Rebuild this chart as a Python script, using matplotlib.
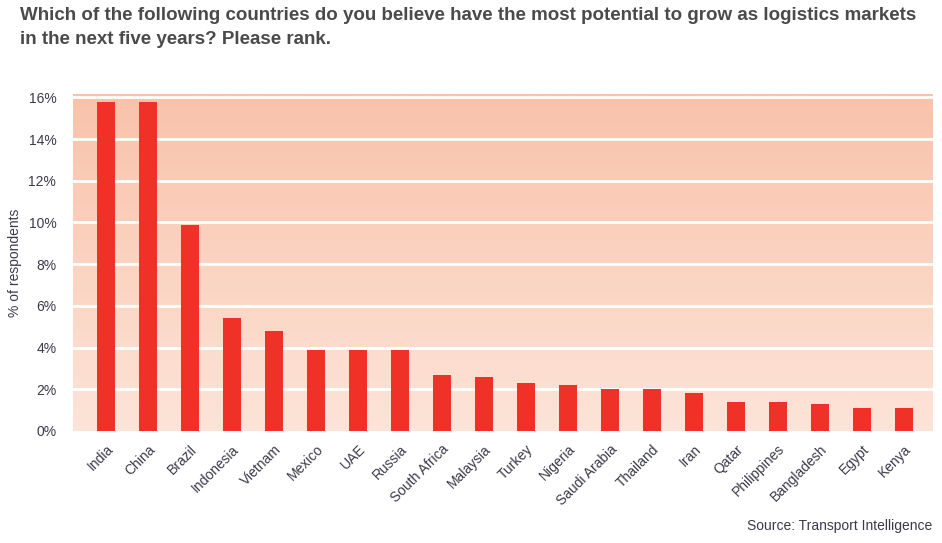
import numpy as np
import matplotlib.pyplot as plt
from matplotlib.colors import LinearSegmentedColormap

plt.rcParams["font.family"] = ["Liberation Sans", "DejaVu Sans"]

countries = ["India", "China", "Brazil", "Indonesia", "Vietnam", "Mexico", "UAE",
             "Russia", "South Africa", "Malaysia", "Turkey", "Nigeria", "Saudi Arabia",
             "Thailand", "Iran", "Qatar", "Philippines", "Bangladesh", "Egypt", "Kenya"]
share = [15.8, 15.8, 9.9, 5.4, 4.8, 3.9, 3.9, 3.9, 2.7, 2.6, 2.3, 2.2, 2.0,
         2.0, 1.8, 1.4, 1.4, 1.3, 1.1, 1.1]
yticks = [0, 2, 4, 6, 8, 10, 12, 14, 16]

text_col = "#3a3a4a"

fig = plt.figure(figsize=(9.42, 5.43), dpi=100)
ax = fig.add_axes([0.0775, 0.2063, 0.9125, 0.6206])

x = np.arange(len(countries))
ymax = 16.16

# gradient background
grad = LinearSegmentedColormap.from_list("bg", ["#fde4d8", "#f9c2aa"])
ax.imshow(np.linspace(0, 1, 256).reshape(-1, 1), cmap=grad, aspect="auto",
          origin="lower", extent=[-0.79, 19.69, 0, ymax], zorder=0)

for t in yticks[1:]:
    ax.axhline(t, color="white", lw=2, zorder=1)

ax.bar(x, share, width=0.43, color="#f03127", zorder=2)

ax.set_xlim(-0.79, 19.69)
ax.set_ylim(0, ymax)
ax.set_yticks(yticks)
ax.set_yticklabels([f"{t}%" for t in yticks])
ax.set_xticks(x)
ax.set_xticklabels(countries, rotation=45, ha="right", rotation_mode="anchor")
ax.tick_params(length=0, labelsize=10, colors=text_col)
ax.tick_params(axis="y", pad=12)
ax.tick_params(axis="x", pad=8)
for s in ax.spines.values():
    s.set_visible(False)
ax.set_ylabel("% of respondents", fontsize=10, color=text_col, labelpad=5)

fig.text(0.021, 0.988, "Which of the following countries do you believe have the most potential to grow as logistics markets\nin the next five years? Please rank.",
         ha="left", va="top", fontsize=13.5, fontweight="bold", color="#4a4a4a",
         linespacing=1.6)
fig.text(0.99, 0.018, "Source: Transport Intelligence", ha="right", va="bottom",
         fontsize=10, color=text_col)

fig.savefig("out.png", dpi=100)
